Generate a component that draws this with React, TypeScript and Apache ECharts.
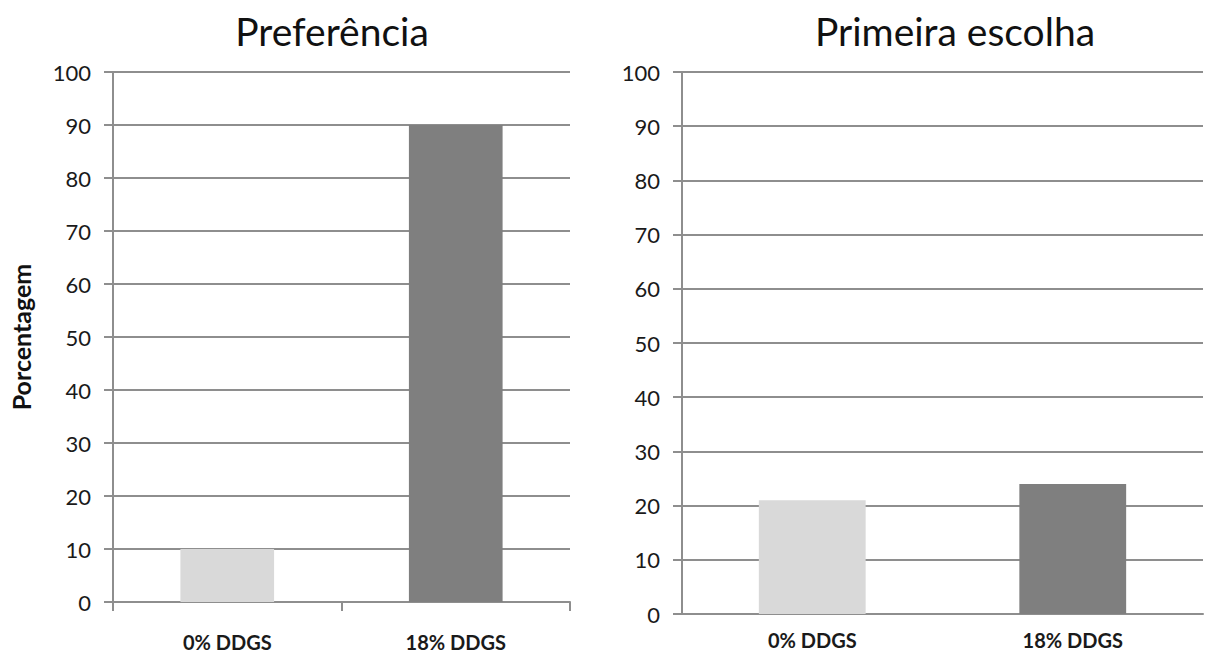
import React, { useEffect, useRef } from "react";
import * as echarts from "echarts";

// Feeding trial results: preference and first choice (%)
const categories = ["0% DDGS", "18% DDGS"];
const preferenceValues = [10, 90];
const firstChoiceValues = [21, 24];
const barColors = ["#d9d9d9", "#7f7f7f"];
const panelTitles = ["Preferência", "Primeira escolha"];
const yAxisName = "Porcentagem";

const FONT = "Lato, 'Open Sans', sans-serif";
const LINE = "#8e8e8e";

function coloredData(values: number[]) {
  return values.map((v, i) => ({ value: v, itemStyle: { color: barColors[i] } }));
}

export default function App() {
  const ref = useRef<HTMLDivElement>(null);

  useEffect(() => {
    document.body.style.margin = "0";
    if (!ref.current) return;
    const chart = echarts.init(ref.current, undefined, { renderer: "svg" });

    const yAxisBase = {
      type: "value" as const,
      min: 0,
      max: 100,
      interval: 10,
      axisLine: { show: true, lineStyle: { color: LINE, width: 2 } },
      axisTick: { show: true, length: 9, lineStyle: { color: LINE, width: 2 } },
      splitLine: { show: true, lineStyle: { color: LINE, width: 2 } },
      axisLabel: { color: "#1a1a1a", fontSize: 22, fontFamily: FONT, margin: 22 },
    };

    const xAxisBase = {
      type: "category" as const,
      data: categories,
      axisLine: { show: true, lineStyle: { color: LINE, width: 2 } },
      axisLabel: {
        color: "#1a1a1a",
        fontSize: 20,
        fontWeight: "bold" as const,
        fontFamily: FONT,
      },
    };

    const titleStyle = { fontFamily: FONT, fontSize: 39, fontWeight: "normal" as const, color: "#111" };

    chart.setOption({
      animation: false,
      backgroundColor: "#ffffff",
      title: [
        { text: panelTitles[0], left: 327, top: 6, textAlign: "center", textStyle: titleStyle },
        { text: panelTitles[1], left: 950, top: 6, textAlign: "center", textStyle: titleStyle },
      ],
      grid: [
        { left: 113, top: 72, width: 457, height: 530 },
        { left: 682, top: 72, width: 521, height: 542 },
      ],
      xAxis: [
        {
          ...xAxisBase,
          gridIndex: 0,
          axisTick: { show: true, length: 9, lineStyle: { color: LINE, width: 2 } },
          axisLabel: { ...xAxisBase.axisLabel, margin: 30 },
        },
        {
          ...xAxisBase,
          gridIndex: 1,
          axisTick: { show: false },
          axisLabel: { ...xAxisBase.axisLabel, margin: 16 },
        },
      ],
      yAxis: [
        {
          ...yAxisBase,
          gridIndex: 0,
          name: yAxisName,
          nameLocation: "middle",
          nameGap: 80,
          nameRotate: 90,
          nameTextStyle: { fontFamily: FONT, fontSize: 25, fontWeight: "bold", color: "#111" },
        },
        { ...yAxisBase, gridIndex: 1 },
      ],
      series: [
        {
          type: "bar",
          xAxisIndex: 0,
          yAxisIndex: 0,
          barWidth: "41%",
          data: coloredData(preferenceValues),
        },
        {
          type: "bar",
          xAxisIndex: 1,
          yAxisIndex: 1,
          barWidth: "41%",
          data: coloredData(firstChoiceValues),
        },
      ],
    });

    return () => chart.dispose();
  }, []);

  return <div ref={ref} style={{ width: 1210, height: 655 }} />;
}
